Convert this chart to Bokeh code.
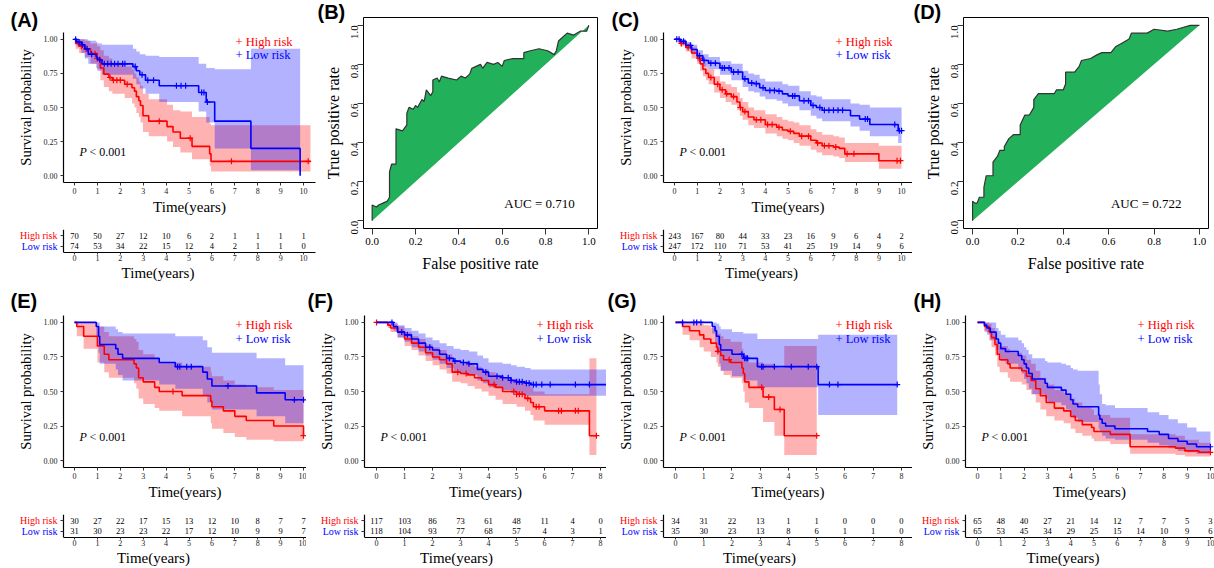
import math
import numpy as np
from bokeh.plotting import figure
from bokeh.layouts import row, column
from bokeh.models import Range1d, FixedTicker, NumeralTickFormatter, Label, Title
from bokeh.core.properties import value
from bokeh.embed import file_html
from bokeh.resources import INLINE

SERIF = "Liberation Serif"
SANS = "Liberation Sans"
RED = "#FF0000"
BLUE = "#0000FF"
GREEN = "#22B05A"
GROUPS = ["High risk", "Low risk"]

# ---------------- Panel A (KM) ----------------
A_high_t = [0, 0.05, 0.2, 0.45, 0.7, 0.99, 1.13, 1.28, 1.5, 1.65, 2.19, 2.51, 2.62, 2.7, 2.81, 2.88, 2.99, 3.24, 4.04, 4.3, 4.62, 5.13, 5.9, 5.96, 10.3]
A_high_s = [1.0, 0.97, 0.95, 0.93, 0.895, 0.86, 0.79, 0.745, 0.72, 0.70, 0.67, 0.645, 0.62, 0.58, 0.55, 0.515, 0.44, 0.40, 0.36, 0.32, 0.275, 0.215, 0.16, 0.105, 0.105]
A_high_hi = [1.0, 1.0, 1.0, 0.99, 0.97, 0.95, 0.92, 0.88, 0.86, 0.83, 0.80, 0.78, 0.75, 0.72, 0.69, 0.66, 0.60, 0.56, 0.52, 0.48, 0.47, 0.43, 0.38, 0.37, 0.37]
A_high_lo = [1.0, 0.93, 0.90, 0.87, 0.82, 0.78, 0.70, 0.65, 0.62, 0.60, 0.57, 0.53, 0.50, 0.46, 0.43, 0.39, 0.32, 0.29, 0.25, 0.21, 0.17, 0.12, 0.07, 0.03, 0.03]
A_high_cens = [0.3, 0.5, 0.9, 1.0, 1.55, 1.7, 1.85, 2.0, 2.3, 3.7, 5.05, 6.85, 10.2]
A_low_t = [0, 0.1, 0.3, 0.45, 0.6, 0.95, 1.0, 1.2, 2.55, 2.7, 2.85, 3.1, 3.7, 5.42, 5.75, 6.12, 7.7, 9.85]
A_low_s = [1.0, 0.98, 0.96, 0.93, 0.89, 0.87, 0.85, 0.82, 0.80, 0.77, 0.74, 0.70, 0.66, 0.61, 0.54, 0.40, 0.20, 0.0]
A_low_hi = [1.0, 1.0, 1.0, 1.0, 0.99, 0.98, 0.97, 0.96, 0.93, 0.91, 0.89, 0.88, 0.87, 0.82, 0.79, 0.78, 0.93, 0.93]
A_low_lo = [1.0, 0.95, 0.90, 0.86, 0.82, 0.79, 0.77, 0.74, 0.71, 0.67, 0.64, 0.60, 0.54, 0.47, 0.39, 0.20, 0.04, 0.04]
A_low_cens = [0.05, 0.2, 0.35, 0.55, 0.75, 1.1, 1.3, 1.45, 1.6, 1.75, 1.9, 2.1, 2.2, 2.65, 2.95, 3.2, 3.45, 4.45, 4.65, 4.85, 5.55, 5.65, 5.8]
A_risk_high = [70, 50, 27, 12, 10, 6, 2, 1, 1, 1, 1]
A_risk_low = [74, 53, 34, 22, 15, 12, 4, 2, 1, 1, 0]

# ---------------- Panel B (ROC) ----------------
B_fpr = [0, 0, 0.02, 0.03, 0.05, 0.07, 0.08, 0.08, 0.08, 0.09, 0.11, 0.11, 0.11, 0.14, 0.16, 0.16, 0.17, 0.19, 0.20, 0.21,
         0.23, 0.24, 0.25, 0.27, 0.28, 0.28, 0.30, 0.31, 0.32, 0.35, 0.39, 0.41, 0.43, 0.45, 0.46, 0.48, 0.50, 0.51, 0.53, 0.56,
         0.58, 0.60, 0.61, 0.65, 0.70, 0.70, 0.73, 0.77, 0.81, 0.84, 0.85, 0.86, 0.87, 0.90, 0.93, 0.96, 0.99, 1.0]
B_tpr = [0, 0.08, 0.07, 0.08, 0.09, 0.10, 0.12, 0.18, 0.25, 0.29, 0.29, 0.36, 0.47, 0.46, 0.49, 0.55, 0.58, 0.57, 0.59, 0.58,
         0.62, 0.61, 0.67, 0.64, 0.66, 0.72, 0.73, 0.71, 0.74, 0.73, 0.72, 0.74, 0.73, 0.75, 0.78, 0.79, 0.80, 0.78, 0.81, 0.80,
         0.81, 0.79, 0.82, 0.83, 0.83, 0.86, 0.87, 0.88, 0.87, 0.85, 0.87, 0.92, 0.93, 0.96, 0.95, 0.97, 0.97, 1.0]
B_auc = "AUC = 0.710"

# ---------------- Panel C (KM) ----------------
C_high_t = [0, 0.25, 0.5, 0.75, 1.0, 1.13, 1.25, 1.38, 1.5, 1.75, 2.0, 2.25, 2.5, 2.75, 2.88, 3.0, 3.25, 3.5, 4.0, 4.5,
            4.75, 5.0, 5.25, 5.5, 6.0, 6.25, 6.5, 7.0, 7.25, 7.5, 9.0, 10.0]
C_high_s = [1.0, 0.97, 0.94, 0.90, 0.86, 0.82, 0.78, 0.75, 0.72, 0.67, 0.63, 0.60, 0.58, 0.54, 0.50, 0.47, 0.43, 0.41, 0.375, 0.355,
            0.335, 0.325, 0.31, 0.29, 0.26, 0.24, 0.22, 0.21, 0.20, 0.16, 0.11, 0.11]
C_high_hi = [1.0, 0.99, 0.97, 0.94, 0.90, 0.87, 0.83, 0.80, 0.78, 0.73, 0.69, 0.67, 0.65, 0.61, 0.57, 0.54, 0.50, 0.48, 0.45, 0.43,
             0.41, 0.40, 0.39, 0.37, 0.34, 0.32, 0.30, 0.29, 0.28, 0.24, 0.22, 0.22]
C_high_lo = [1.0, 0.95, 0.91, 0.86, 0.82, 0.77, 0.73, 0.70, 0.67, 0.61, 0.57, 0.54, 0.52, 0.48, 0.44, 0.41, 0.37, 0.35, 0.31, 0.29,
             0.27, 0.26, 0.24, 0.22, 0.19, 0.17, 0.15, 0.14, 0.13, 0.10, 0.05, 0.05]
C_high_cens = [0.3, 0.6, 1.1, 1.6, 1.9, 2.1, 2.3, 2.6, 2.9, 3.1, 3.6, 3.8, 4.1, 4.3, 4.6, 5.1, 5.6, 5.9, 6.3, 6.6, 6.8, 7.1,
               7.6, 7.9, 9.8, 9.95]
C_low_t = [0, 0.25, 0.5, 0.75, 1.0, 1.25, 1.5, 2.0, 2.5, 3.0, 3.25, 3.5, 3.75, 4.0, 4.5, 4.75, 5.0, 5.5, 6.0, 6.25,
           6.5, 7.75, 8.15, 8.6, 9.85, 10.0]
C_low_s = [1.0, 0.985, 0.955, 0.925, 0.88, 0.845, 0.825, 0.79, 0.76, 0.71, 0.68, 0.675, 0.645, 0.625, 0.62, 0.60, 0.585, 0.55, 0.515, 0.50,
           0.48, 0.44, 0.415, 0.375, 0.33, 0.33]
C_low_hi = [1.0, 1.0, 0.98, 0.96, 0.92, 0.89, 0.87, 0.84, 0.82, 0.77, 0.75, 0.74, 0.71, 0.69, 0.69, 0.67, 0.66, 0.62, 0.59, 0.58,
            0.56, 0.53, 0.52, 0.50, 0.50, 0.50]
C_low_lo = [1.0, 0.97, 0.93, 0.89, 0.84, 0.80, 0.78, 0.74, 0.70, 0.65, 0.62, 0.61, 0.58, 0.56, 0.55, 0.53, 0.51, 0.48, 0.44, 0.42,
            0.40, 0.36, 0.33, 0.29, 0.24, 0.22]
C_low_cens = [0.1, 0.2, 0.4, 0.7, 1.1, 1.3, 1.6, 1.8, 2.1, 2.2, 2.4, 2.6, 2.8, 3.1, 3.4, 3.6, 3.9, 4.2, 4.4, 4.6, 5.2, 5.3,
              5.7, 5.9, 6.1, 6.4, 6.6, 6.8, 7.0, 7.2, 7.4, 8.4, 8.5, 9.7, 9.9, 10.0]
C_risk_high = [243, 167, 80, 44, 33, 23, 16, 9, 6, 4, 2]
C_risk_low = [247, 172, 110, 71, 53, 41, 25, 19, 14, 9, 6]

# ---------------- Panel D (ROC) ----------------
D_fpr = [0, 0, 0.01, 0.02, 0.03, 0.05, 0.05, 0.06, 0.09, 0.09, 0.11, 0.12, 0.14, 0.14, 0.16, 0.18, 0.21, 0.21, 0.23, 0.25,
         0.27, 0.27, 0.29, 0.32, 0.36, 0.37, 0.40, 0.41, 0.41, 0.45, 0.47, 0.48, 0.52, 0.55, 0.57, 0.61, 0.63, 0.66, 0.69, 0.70,
         0.74, 0.77, 0.80, 0.86, 0.90, 0.96, 1.0]
D_tpr = [0, 0.10, 0.09, 0.09, 0.12, 0.12, 0.17, 0.23, 0.23, 0.30, 0.33, 0.36, 0.36, 0.38, 0.42, 0.44, 0.44, 0.49, 0.54, 0.54,
         0.58, 0.62, 0.65, 0.65, 0.65, 0.67, 0.67, 0.70, 0.76, 0.76, 0.79, 0.82, 0.83, 0.85, 0.86, 0.86, 0.89, 0.91, 0.93, 0.96,
         0.96, 0.96, 0.98, 0.97, 0.98, 1.0, 1.0]
D_auc = "AUC = 0.722"

# ---------------- Panel E (KM) ----------------
E_high_t = [0, 0.1, 0.4, 1.0, 1.3, 1.5, 2.6, 2.7, 2.8, 3.0, 3.5, 3.7, 4.7, 5.95, 6.0, 6.5, 7.0, 7.5, 8.7, 10.0]
E_high_s = [1.0, 0.97, 0.90, 0.83, 0.77, 0.73, 0.70, 0.67, 0.60, 0.57, 0.53, 0.50, 0.47, 0.43, 0.39, 0.36, 0.32, 0.29, 0.25, 0.18]
E_high_hi = [1.0, 1.0, 1.0, 0.97, 0.93, 0.90, 0.88, 0.86, 0.80, 0.77, 0.74, 0.71, 0.68, 0.64, 0.61, 0.58, 0.55, 0.53, 0.51, 0.51]
E_high_lo = [1.0, 0.90, 0.81, 0.71, 0.64, 0.60, 0.56, 0.52, 0.45, 0.41, 0.38, 0.36, 0.32, 0.27, 0.23, 0.20, 0.17, 0.15, 0.14, 0.14]
E_high_cens = [4.3, 10.0]
E_low_t = [0, 0.95, 1.05, 1.1, 1.8, 1.9, 2.1, 3.7, 4.4, 5.6, 5.8, 6.0, 7.95, 9.2, 10.0]
E_low_s = [1.0, 0.97, 0.90, 0.84, 0.81, 0.77, 0.74, 0.71, 0.68, 0.64, 0.59, 0.54, 0.49, 0.44, 0.44]
E_low_hi = [1.0, 1.0, 1.0, 0.97, 0.95, 0.93, 0.92, 0.92, 0.90, 0.87, 0.82, 0.78, 0.74, 0.69, 0.69]
E_low_lo = [1.0, 0.90, 0.78, 0.70, 0.66, 0.62, 0.58, 0.55, 0.52, 0.47, 0.42, 0.37, 0.32, 0.27, 0.27]
E_low_cens = [4.5, 4.6, 4.9, 5.1, 6.7, 9.6, 10.0]
E_risk_high = [30, 27, 22, 17, 15, 13, 12, 10, 8, 7, 7]
E_risk_low = [31, 30, 23, 23, 22, 17, 12, 10, 9, 9, 7]

# ---------------- Panel F (KM) ----------------
F_high_t = [0, 0.4, 0.5, 0.75, 1.0, 1.25, 1.5, 1.75, 2.0, 2.25, 2.5, 2.7, 3.0, 3.25, 3.5, 3.75, 4.0, 4.25, 4.5, 5.0,
            5.3, 5.5, 5.6, 6.0, 7.6, 7.85]
F_high_s = [1.0, 0.98, 0.96, 0.93, 0.88, 0.85, 0.82, 0.78, 0.75, 0.73, 0.70, 0.64, 0.63, 0.62, 0.60, 0.58, 0.55, 0.53, 0.50, 0.48,
            0.45, 0.42, 0.39, 0.36, 0.18, 0.18]
F_high_hi = [1.0, 1.0, 0.99, 0.97, 0.93, 0.90, 0.88, 0.84, 0.82, 0.80, 0.77, 0.72, 0.71, 0.70, 0.68, 0.66, 0.64, 0.62, 0.59, 0.58,
             0.55, 0.53, 0.50, 0.48, 0.74, 0.74]
F_high_lo = [1.0, 0.96, 0.93, 0.89, 0.83, 0.80, 0.76, 0.72, 0.69, 0.66, 0.63, 0.57, 0.56, 0.54, 0.52, 0.50, 0.47, 0.44, 0.41, 0.39,
             0.36, 0.33, 0.29, 0.26, 0.04, 0.04]
F_high_cens = [0.0, 2.9, 3.2, 4.2, 4.9, 5.0, 5.1, 5.2, 5.4, 5.7, 5.8, 6.5, 6.6, 7.1, 7.2, 7.85]
F_low_t = [0, 0.6, 0.75, 1.0, 1.25, 1.5, 1.75, 2.0, 2.25, 2.5, 2.75, 3.0, 3.3, 3.6, 3.8, 4.0, 4.5, 4.8, 5.0, 5.3, 5.5, 8.3]
F_low_s = [1.0, 0.97, 0.93, 0.91, 0.88, 0.85, 0.82, 0.80, 0.77, 0.74, 0.72, 0.71, 0.70, 0.66, 0.64, 0.61, 0.60, 0.58, 0.57, 0.56, 0.55, 0.55]
F_low_hi = [1.0, 1.0, 0.98, 0.96, 0.94, 0.92, 0.89, 0.87, 0.85, 0.83, 0.81, 0.80, 0.79, 0.76, 0.74, 0.71, 0.70, 0.69, 0.68, 0.67, 0.66, 0.66]
F_low_lo = [1.0, 0.94, 0.89, 0.86, 0.82, 0.79, 0.76, 0.73, 0.70, 0.67, 0.64, 0.63, 0.62, 0.58, 0.56, 0.53, 0.51, 0.49, 0.48, 0.47, 0.47, 0.47]
F_low_cens = [0.55, 0.9, 1.1, 1.9, 2.6, 2.8, 3.1, 3.3, 3.9, 4.3, 4.5, 4.7, 4.8, 5.0, 5.1, 5.2, 5.35, 5.45, 5.6, 5.7, 5.9, 6.2, 7.1, 7.6]
F_risk_high = [117, 103, 86, 73, 61, 48, 11, 4, 0]
F_risk_low = [118, 104, 93, 77, 68, 57, 4, 3, 1]

# ---------------- Panel G (KM) ----------------
G_high_t = [0, 0.25, 0.5, 0.85, 1.0, 1.25, 1.45, 1.5, 1.6, 1.7, 1.95, 2.35, 2.4, 2.45, 2.6, 3.1, 3.5, 3.85, 5.0]
G_high_s = [1.0, 0.97, 0.94, 0.91, 0.88, 0.85, 0.82, 0.79, 0.76, 0.73, 0.71, 0.67, 0.63, 0.57, 0.53, 0.46, 0.37, 0.18, 0.18]
G_high_hi = [1.0, 1.0, 1.0, 0.99, 0.98, 0.96, 0.94, 0.92, 0.90, 0.88, 0.86, 0.81, 0.78, 0.74, 0.71, 0.70, 0.67, 0.83, 0.83]
G_high_lo = [1.0, 0.91, 0.87, 0.82, 0.79, 0.75, 0.71, 0.68, 0.65, 0.62, 0.60, 0.56, 0.50, 0.42, 0.38, 0.28, 0.18, 0.04, 0.04]
G_high_cens = [1.5, 1.9, 3.05, 3.3, 3.7, 5.0]
G_low_t = [0, 1.3, 1.4, 1.45, 1.55, 1.6, 2.0, 2.4, 2.9, 5.05, 7.85]
G_low_s = [1.0, 0.97, 0.94, 0.90, 0.84, 0.80, 0.77, 0.74, 0.68, 0.55, 0.55]
G_low_hi = [1.0, 1.0, 1.0, 0.99, 0.97, 0.95, 0.93, 0.92, 0.88, 0.91, 0.91]
G_low_lo = [1.0, 0.92, 0.85, 0.78, 0.70, 0.65, 0.61, 0.58, 0.53, 0.33, 0.33]
G_low_cens = [0.25, 0.65, 0.75, 0.9, 2.35, 2.45, 2.5, 2.55, 3.05, 3.1, 3.5, 4.1, 4.7, 5.0, 5.45, 5.75, 7.85]
G_risk_high = [34, 31, 22, 13, 1, 1, 0, 0, 0]
G_risk_low = [35, 30, 23, 13, 8, 6, 1, 1, 0]

# ---------------- Panel H (KM) ----------------
H_high_t = [0, 0.3, 0.5, 0.6, 0.75, 0.85, 0.95, 1.3, 1.4, 1.9, 2.1, 2.3, 2.5, 2.7, 2.95, 3.3, 3.7, 4.0, 4.2, 4.5,
            4.9, 5.0, 5.7, 6.55, 8.5, 8.9, 9.5, 10.0]
H_high_s = [1.0, 0.97, 0.93, 0.89, 0.84, 0.77, 0.73, 0.70, 0.67, 0.65, 0.61, 0.58, 0.52, 0.47, 0.42, 0.38, 0.36, 0.32, 0.29, 0.26,
            0.24, 0.21, 0.19, 0.10, 0.09, 0.07, 0.06, 0.06]
H_high_hi = [1.0, 1.0, 0.99, 0.96, 0.92, 0.86, 0.83, 0.81, 0.78, 0.76, 0.73, 0.70, 0.65, 0.60, 0.55, 0.51, 0.49, 0.45, 0.42, 0.39,
             0.37, 0.33, 0.31, 0.19, 0.18, 0.15, 0.13, 0.13]
H_high_lo = [1.0, 0.93, 0.87, 0.82, 0.76, 0.68, 0.64, 0.60, 0.57, 0.55, 0.51, 0.48, 0.42, 0.37, 0.32, 0.29, 0.27, 0.23, 0.20, 0.18,
             0.16, 0.14, 0.12, 0.05, 0.04, 0.03, 0.03, 0.03]
H_high_cens = [10.0]
H_low_t = [0, 0.3, 0.4, 0.55, 0.8, 0.9, 1.0, 1.2, 1.75, 1.9, 2.0, 2.1, 2.2, 2.35, 2.9, 3.0, 3.6, 3.8, 4.0, 4.1,
           4.3, 5.2, 5.25, 5.35, 5.5, 5.9, 7.3, 7.8, 8.2, 8.6, 9.0, 9.4, 10.0]
H_low_s = [1.0, 0.98, 0.96, 0.93, 0.88, 0.85, 0.81, 0.79, 0.76, 0.73, 0.70, 0.67, 0.63, 0.59, 0.56, 0.53, 0.51, 0.48, 0.44, 0.41,
           0.39, 0.33, 0.30, 0.27, 0.25, 0.23, 0.21, 0.19, 0.16, 0.14, 0.12, 0.10, 0.10]
H_low_hi = [1.0, 1.0, 1.0, 1.0, 0.96, 0.94, 0.91, 0.89, 0.87, 0.85, 0.82, 0.80, 0.77, 0.74, 0.72, 0.71, 0.70, 0.69, 0.67, 0.66,
            0.65, 0.55, 0.48, 0.41, 0.40, 0.38, 0.35, 0.33, 0.30, 0.27, 0.24, 0.21, 0.21]
H_low_lo = [1.0, 0.94, 0.91, 0.87, 0.80, 0.77, 0.72, 0.70, 0.66, 0.63, 0.59, 0.56, 0.52, 0.48, 0.45, 0.42, 0.40, 0.37, 0.33, 0.31,
            0.28, 0.23, 0.21, 0.18, 0.16, 0.15, 0.13, 0.11, 0.09, 0.07, 0.06, 0.05, 0.05]
H_low_cens = [10.0]
H_risk_high = [65, 48, 40, 27, 21, 14, 12, 7, 7, 5, 3]
H_risk_low = [65, 53, 45, 34, 29, 25, 15, 14, 10, 9, 6]

KM_YTICKS = [0, 0.25, 0.5, 0.75, 1.0]
ROC_TICKS = [0, 0.2, 0.4, 0.6, 0.8, 1.0]


def new_fig(w, h, xr, yr, left, right, top, bottom, outline=None, yaxis=True):
    p = figure(width=w, height=h, x_range=Range1d(*xr), y_range=Range1d(*yr),
               output_backend="svg", toolbar_location=None, title=None,
               y_axis_location=("left" if yaxis else None),
               min_border_left=left, min_border_right=right,
               min_border_top=top, min_border_bottom=bottom)
    p.xgrid.visible = False
    p.ygrid.visible = False
    p.outline_line_color = outline
    p.background_fill_color = "white"
    p.border_fill_color = "white"
    return p


def style_axis(ax, ticks, tick_size, label, label_size, fmt=None, tick_out=3,
               standoff=2, label_standoff=2, line_width=1.2):
    ax.ticker = FixedTicker(ticks=ticks)
    if fmt is not None:
        ax.formatter = NumeralTickFormatter(format=fmt)
    ax.axis_label = label
    ax.axis_label_text_font = SERIF
    ax.axis_label_text_font_style = "normal"
    ax.axis_label_text_font_size = label_size
    ax.axis_label_text_color = "black"
    ax.axis_label_standoff = label_standoff
    ax.major_label_text_font = SERIF
    ax.major_label_text_font_size = tick_size
    ax.major_label_text_color = "#1a1a1a"
    ax.major_label_standoff = standoff
    ax.major_tick_out = tick_out
    ax.major_tick_in = 0
    ax.minor_tick_out = 0
    ax.minor_tick_in = 0
    ax.axis_line_color = "black"
    ax.axis_line_width = line_width
    ax.major_tick_line_color = "#333333"


def add_label(p, x, y, text, size, color="black", font=SERIF, style="normal",
              align="left", xu="screen", yu="screen"):
    p.add_layout(Label(x=x, y=y, x_units=xu, y_units=yu, text=text, text_font=font,
                       text_font_size=size, text_font_style=style, text_color=color,
                       text_align=align, text_baseline="middle"))


def set_letter(p, letter, offset, standoff):
    p.title = Title(text="(" + letter + ")", align="left", offset=offset, standoff=standoff,
                    text_font=SANS, text_font_style="bold", text_font_size="20px",
                    text_color="black")


def step_value(t, s, x):
    idx = np.searchsorted(np.asarray(t, dtype=float), np.asarray(x, dtype=float), side="right") - 1
    return np.asarray(s, dtype=float)[np.clip(idx, 0, len(s) - 1)]


TOP_GEO = dict(mh=218, mt=32, mb=36, th=63, tt=11, tb=29, letter_so=4, leg=(9, 22))
BOT_GEO = dict(mh=221, mt=34, mb=34, th=64, tt=12, tb=29, letter_so=8, leg=(10, 24))


def km_panel(letter, fig_w, geo, frame_left, frame_w, xr, xmax, curves, risks, letter_x):
    right = fig_w - frame_left - frame_w
    fh = geo["mh"] - geo["mt"] - geo["mb"]
    p = new_fig(fig_w, geo["mh"], xr, (-0.05, 1.05), frame_left, right, geo["mt"], geo["mb"])
    for (t, s, lo, hi, cens, color) in curves:
        p.varea_step(x=t, y1=lo, y2=hi, step_mode="after", fill_color=color, fill_alpha=0.3)
    for (t, s, lo, hi, cens, color) in curves:
        p.step(x=t, y=s, mode="after", line_color=color, line_width=1.6)
        p.scatter(x=cens, y=step_value(t, s, cens), marker="cross", size=6,
                  line_color=color, line_width=1.2)
    style_axis(p.xaxis[0], list(range(xmax + 1)), "8px", "Time(years)", "15px",
               standoff=2, label_standoff=2)
    style_axis(p.yaxis[0], KM_YTICKS, "8px", "Survival probability", "14.5px", fmt="0.00",
               standoff=3, label_standoff=7)
    set_letter(p, letter, letter_x, geo["letter_so"])
    add_label(p, 172, fh - geo["leg"][0], "+ " + GROUPS[0], "12.5px", color=RED)
    add_label(p, 172, fh - geo["leg"][1], "+ " + GROUPS[1], "12.5px", color=BLUE)
    add_label(p, 16, 31, "P", "12px", style="italic")
    add_label(p, 26, 31, "< 0.001", "12px")

    # risk table: its frame starts at the figure's left edge so row names are not clipped
    ppu = frame_w / (xr[1] - xr[0])
    txr = (xr[0] - frame_left / ppu, xr[1])
    tb = new_fig(fig_w, geo["th"], txr, (-0.55, 1.55), 0, right, geo["tt"], geo["tb"], yaxis=False)
    times = list(range(xmax + 1))
    for yv, counts in [(1, risks[0]), (0, risks[1])]:
        tb.text(x=times, y=[yv] * len(times), text=[str(c) for c in counts],
                text_font=value(SERIF), text_font_size=value("8.5px"),
                text_align="center", text_baseline="middle", text_color="black")
    tb.text(x=[xr[0] - 6 / ppu] * 2, y=[1, 0], text=GROUPS, text_color=[RED, BLUE],
            text_font=value(SERIF), text_font_size=value("10px"),
            text_align="right", text_baseline="middle")
    tb.segment(x0=[xr[0]], y0=[-0.55], x1=[xr[0]], y1=[1.55], line_color="black", line_width=1.2)
    tb.segment(x0=[xr[0] - 3 / ppu] * 2, y0=[1, 0], x1=[xr[0]] * 2, y1=[1, 0],
               line_color="#333333", line_width=1)
    style_axis(tb.xaxis[0], times, "8px", "", "15px", tick_out=2, standoff=0, label_standoff=0)
    tb.xaxis[0].axis_label = None
    tb.xaxis[0].bounds = (xr[0], xr[1])
    tb.add_layout(Title(text="Time(years)", align="center", offset=frame_left / 2, standoff=-2,
                        text_font=SERIF, text_font_style="normal", text_font_size="15px",
                        text_color="black"), "below")
    # the table sits in its own row so its frame is not aligned with the plot above
    return column(p, row(tb, spacing=0), spacing=0)


def roc_panel(letter, fig_w, height, frame_left, frame_w, frame_top, frame_h, fpr, tpr, auc, letter_x):
    p = new_fig(fig_w, height, (-0.04, 1.04), (-0.04, 1.04), frame_left, fig_w - frame_left - frame_w,
                frame_top, height - frame_top - frame_h, outline="black")
    p.outline_line_width = 1
    p.patch(x=fpr, y=tpr, fill_color=GREEN, line_color=None)
    p.line(x=fpr, y=tpr, line_color="#333333", line_width=1.2)
    style_axis(p.xaxis[0], ROC_TICKS, "11px", "False positive rate", "16px", fmt="0.0",
               tick_out=6, standoff=3, label_standoff=7, line_width=1)
    style_axis(p.yaxis[0], ROC_TICKS, "11px", "True positive rate", "16px", fmt="0.0",
               tick_out=6, standoff=3, label_standoff=3, line_width=1)
    p.yaxis[0].major_label_orientation = math.pi / 2
    for ax in (p.xaxis[0], p.yaxis[0]):
        ax.bounds = (0, 1)
        ax.major_label_text_color = "black"
    add_label(p, 0.61, 0.09, auc, "13px", xu="data", yu="data")
    set_letter(p, letter, letter_x, -10)
    return p


TOP_H = TOP_GEO["mh"] + TOP_GEO["th"]

panel_A = km_panel("A", 316, TOP_GEO, 63, 252, (-0.48, 10.52), 10,
                   [(A_high_t, A_high_s, A_high_lo, A_high_hi, A_high_cens, RED),
                    (A_low_t, A_low_s, A_low_lo, A_low_hi, A_low_cens, BLUE)],
                   (A_risk_high, A_risk_low), -53)
panel_B = roc_panel("B", 294, TOP_H, 47, 234, 17, 215, B_fpr, B_tpr, B_auc, -46)
panel_C = km_panel("C", 302, TOP_GEO, 53, 249, (-0.485, 10.48), 10,
                   [(C_high_t, C_high_s, C_high_lo, C_high_hi, C_high_cens, RED),
                    (C_low_t, C_low_s, C_low_lo, C_low_hi, C_low_cens, BLUE)],
                   (C_risk_high, C_risk_low), -52)
panel_D = roc_panel("D", 302, TOP_H, 51, 245, 17, 211, D_fpr, D_tpr, D_auc, -50)

panel_E = km_panel("E", 306, BOT_GEO, 63, 243, (-0.48, 10.13), 10,
                   [(E_high_t, E_high_s, E_high_lo, E_high_hi, E_high_cens, RED),
                    (E_low_t, E_low_s, E_low_lo, E_low_hi, E_low_cens, BLUE)],
                   (E_risk_high, E_risk_low), -53)
panel_F = km_panel("F", 300, BOT_GEO, 58, 242, (-0.43, 8.21), 8,
                   [(F_high_t, F_high_s, F_high_lo, F_high_hi, F_high_cens, RED),
                    (F_low_t, F_low_s, F_low_lo, F_low_hi, F_low_cens, BLUE)],
                   (F_risk_high, F_risk_low), -57)
panel_G = km_panel("G", 306, BOT_GEO, 57, 249, (-0.425, 8.39), 8,
                   [(G_high_t, G_high_s, G_high_lo, G_high_hi, G_high_cens, RED),
                    (G_low_t, G_low_s, G_low_lo, G_low_hi, G_low_cens, BLUE)],
                   (G_risk_high, G_risk_low), -56)
panel_H = km_panel("H", 302, BOT_GEO, 53, 248, (-0.515, 10.13), 10,
                   [(H_high_t, H_high_s, H_high_lo, H_high_hi, H_high_cens, RED),
                    (H_low_t, H_low_s, H_low_lo, H_low_hi, H_low_cens, BLUE)],
                   (H_risk_high, H_risk_low), -52)

layout = column(row(panel_A, panel_B, panel_C, panel_D, spacing=0),
                row(panel_E, panel_F, panel_G, panel_H, spacing=0), spacing=0)

open("out.html", "w").write(file_html(layout, INLINE))
